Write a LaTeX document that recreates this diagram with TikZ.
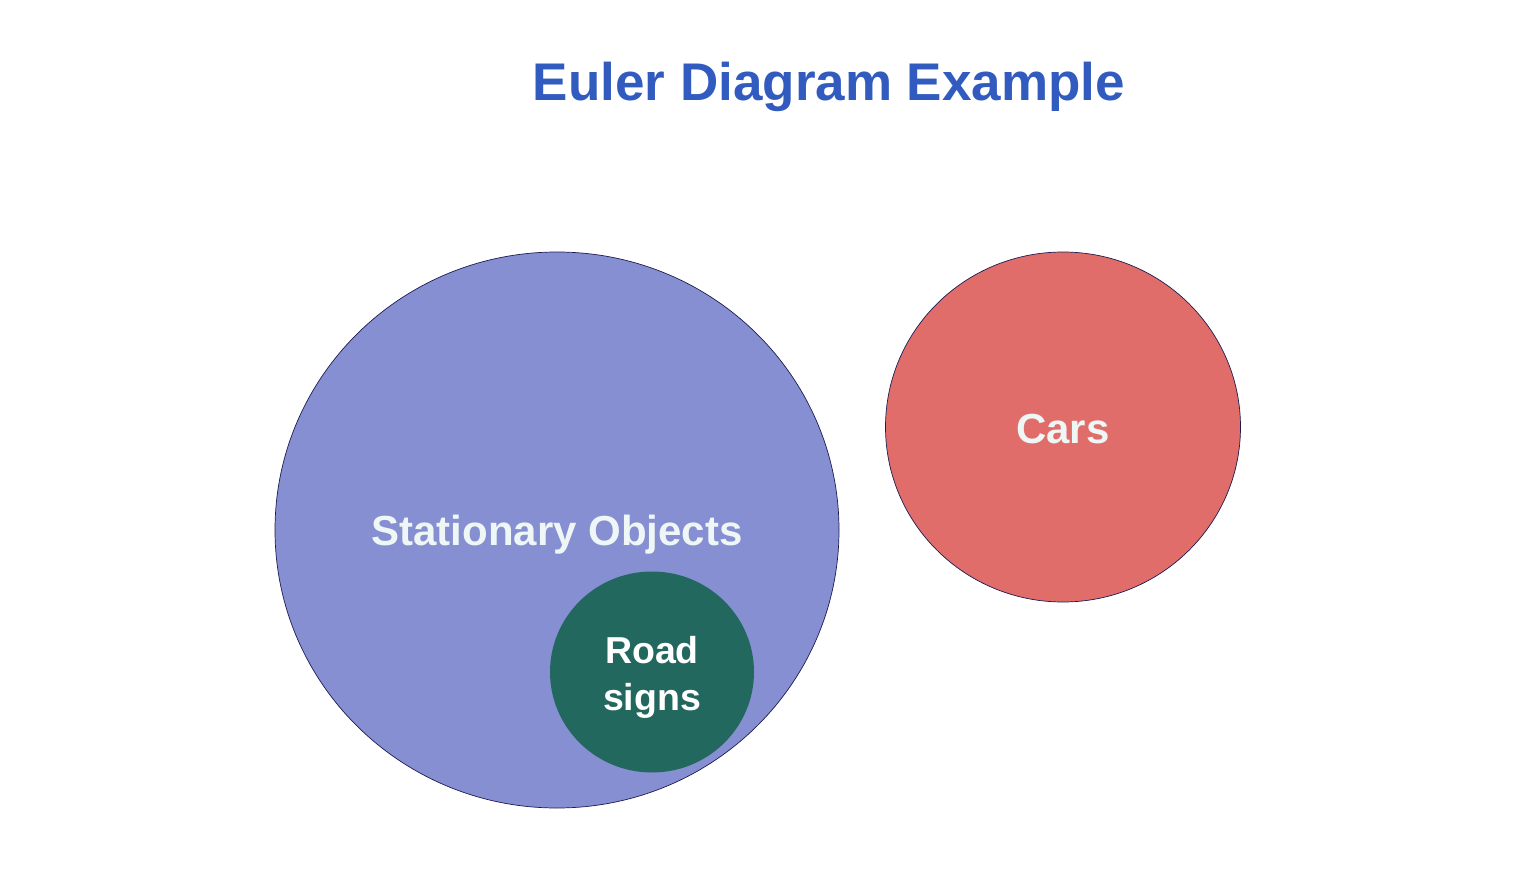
\documentclass[tikz,border=0pt]{standalone}
\usepackage{fontspec}
\setmainfont{Liberation Sans}
\usetikzlibrary{shapes.geometric}
\definecolor{TitleBlue}{HTML}{315BBE}
\definecolor{SetBlue}{HTML}{868FD2}
\definecolor{SetRed}{HTML}{E06D6A}
\definecolor{SetGreen}{HTML}{22685E}
\definecolor{SetEdge}{HTML}{1C1C50}
\definecolor{LabelWhite}{HTML}{EEF6F6}

\begin{document}
\begin{tikzpicture}[
    x=1pt, y=-1pt,
    font=\bfseries,
    set/.style={ellipse, inner sep=0pt, draw=SetEdge, line width=0.7pt},
    label/.style={text=LabelWhite, align=center, inner sep=0pt}
  ]
    \useasboundingbox (0,0) rectangle (1516,872);
    \node[text=TitleBlue, font=\bfseries\fontsize{53}{58}\selectfont] (title) at (829,87) {Euler Diagram Example};

    \node[set, fill=SetBlue, minimum width=564pt, minimum height=556pt] (stationary) at (557,530) {};
    \node[set, fill=SetRed, minimum width=355pt, minimum height=350pt] (cars) at (1063,427) {};
    \node[set, draw=none, fill=SetGreen, minimum width=204pt, minimum height=201pt] (signs) at (652,672) {};

    \node[label, font=\bfseries\fontsize{42}{46}\selectfont] (stationarytext) at (557,535) {Stationary Objects};
    \node[label, font=\bfseries\fontsize{42}{46}\selectfont] (carstext) at (1063,429) {Cars};
    \node[label, text=white, font=\bfseries\fontsize{37.5}{47}\selectfont] (signstext) at (652,677) {Road\\signs};
  \end{tikzpicture}
\end{document}
